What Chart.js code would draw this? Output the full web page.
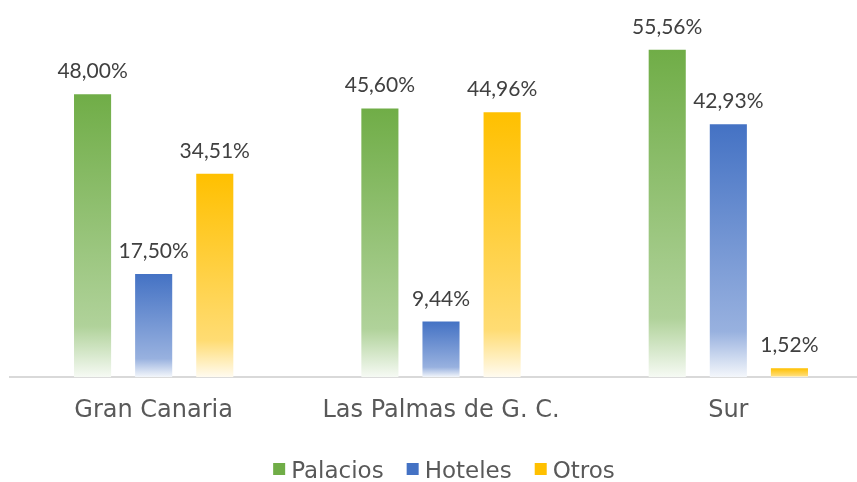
<!DOCTYPE html>
<html lang="es">
<head>
<meta charset="utf-8">
<script src="https://cdn.jsdelivr.net/npm/chart.js@4.4.1/dist/chart.umd.min.js"></script>
<style>
  html, body { margin: 0; padding: 0; background: #fff; overflow: hidden; }
  #caja { width: 872px; height: 482px; }
</style>
</head>
<body>
<div id="caja"><canvas id="grafico" width="872" height="482"></canvas></div>
<script>
const ZONAS = ['Gran Canaria', 'Las Palmas de G. C.', 'Sur'];
const PALACIOS = [48.00, 45.60, 55.56];
const HOTELES = [17.50, 9.44, 42.93];
const OTROS = [34.51, 44.96, 1.52];
const SERIES = ['Palacios', 'Hoteles', 'Otros'];
const COLORES = ['#70AD47', '#4472C4', '#FFC000'];

const FUENTE_TEXTO = "'DejaVu Sans', sans-serif";
const FUENTE_CIFRAS = "Lato, 'DejaVu Sans', sans-serif";

// mezcla un color hex con blanco
function aclarar(hex, t) {
    const n = parseInt(hex.slice(1), 16);
    const r = (n >> 16) & 255, g = (n >> 8) & 255, b = n & 255;
    const m = c => Math.round(c + (255 - c) * t);
    return `rgb(${m(r)},${m(g)},${m(b)})`;
}

// degradado vertical propio de cada barra: color arriba, casi blanco abajo
function degradado(color) {
    return ctx => {
        const y = ctx.chart.scales.y;
        if (ctx.type !== 'data' || !y) return color;
        const arriba = y.getPixelForValue(ctx.raw);
        const base = y.getPixelForValue(0);
        if (!isFinite(arriba) || !isFinite(base) || base - arriba < 1) return color;
        const g = ctx.chart.ctx.createLinearGradient(0, arriba, 0, base);
        g.addColorStop(0, color);
        g.addColorStop(0.82, aclarar(color, 0.45));
        g.addColorStop(1, aclarar(color, 0.94));
        return g;
    };
}

const fmt = v => v.toFixed(2).replace('.', ',') + '%';

// etiquetas de valor encima de cada barra
const etiquetas = {
    id: 'etiquetas',
    afterDatasetsDraw(chart) {
        const c = chart.ctx;
        c.save();
        c.font = `21px ${FUENTE_CIFRAS}`;
        c.fillStyle = '#404040';
        c.textAlign = 'center';
        c.textBaseline = 'alphabetic';
        chart.data.datasets.forEach((ds, i) => {
            chart.getDatasetMeta(i).data.forEach((barra, j) => {
                c.fillText(fmt(ds.data[j]), barra.x, barra.y - 16);
            });
        });
        c.restore();
    }
};

// leyenda propia bajo el eje: cuadrado de color + nombre de la serie
const leyenda = {
    id: 'leyenda',
    afterDraw(chart) {
        const c = chart.ctx;
        const area = chart.chartArea;
        c.save();
        c.font = `23px ${FUENTE_TEXTO}`;
        c.textBaseline = 'alphabetic';
        c.textAlign = 'left';
        const caja = 12, hueco = 6, sep = 23;
        const anchos = SERIES.map(s => c.measureText(s).width);
        const total = anchos.reduce((a, w) => a + caja + hueco + w, 0) + sep * (SERIES.length - 1);
        let x = (area.left + area.right) / 2 - total / 2 + 3;
        const base = 478;
        SERIES.forEach((s, i) => {
            c.fillStyle = COLORES[i];
            c.fillRect(x, base - 15, caja, caja);
            c.fillStyle = '#595959';
            c.fillText(s, x + caja + hueco, base);
            x += caja + hueco + anchos[i] + sep;
        });
        c.restore();
    }
};

new Chart(document.getElementById('grafico'), {
    type: 'bar',
    data: {
        labels: ZONAS,
        datasets: [PALACIOS, HOTELES, OTROS].map((d, i) => ({
            label: SERIES[i],
            data: d,
            backgroundColor: degradado(COLORES[i]),
            borderWidth: 0,
            categoryPercentage: 0.638,
            barPercentage: 0.607
        }))
    },
    options: {
        responsive: false,
        animation: false,
        layout: { padding: { left: 10, right: 0, top: 23.5, bottom: 46 } },
        scales: {
            x: {
                grid: { display: false },
                border: { display: true, color: '#D9D9D9', width: 2 },
                ticks: { color: '#595959', font: { family: FUENTE_TEXTO, size: 24 }, padding: 11 }
            },
            y: { display: false, min: 0, max: 60 }
        },
        plugins: {
            legend: { display: false },
            tooltip: { enabled: false }
        }
    },
    plugins: [etiquetas, leyenda]
});
</script>
</body>
</html>
